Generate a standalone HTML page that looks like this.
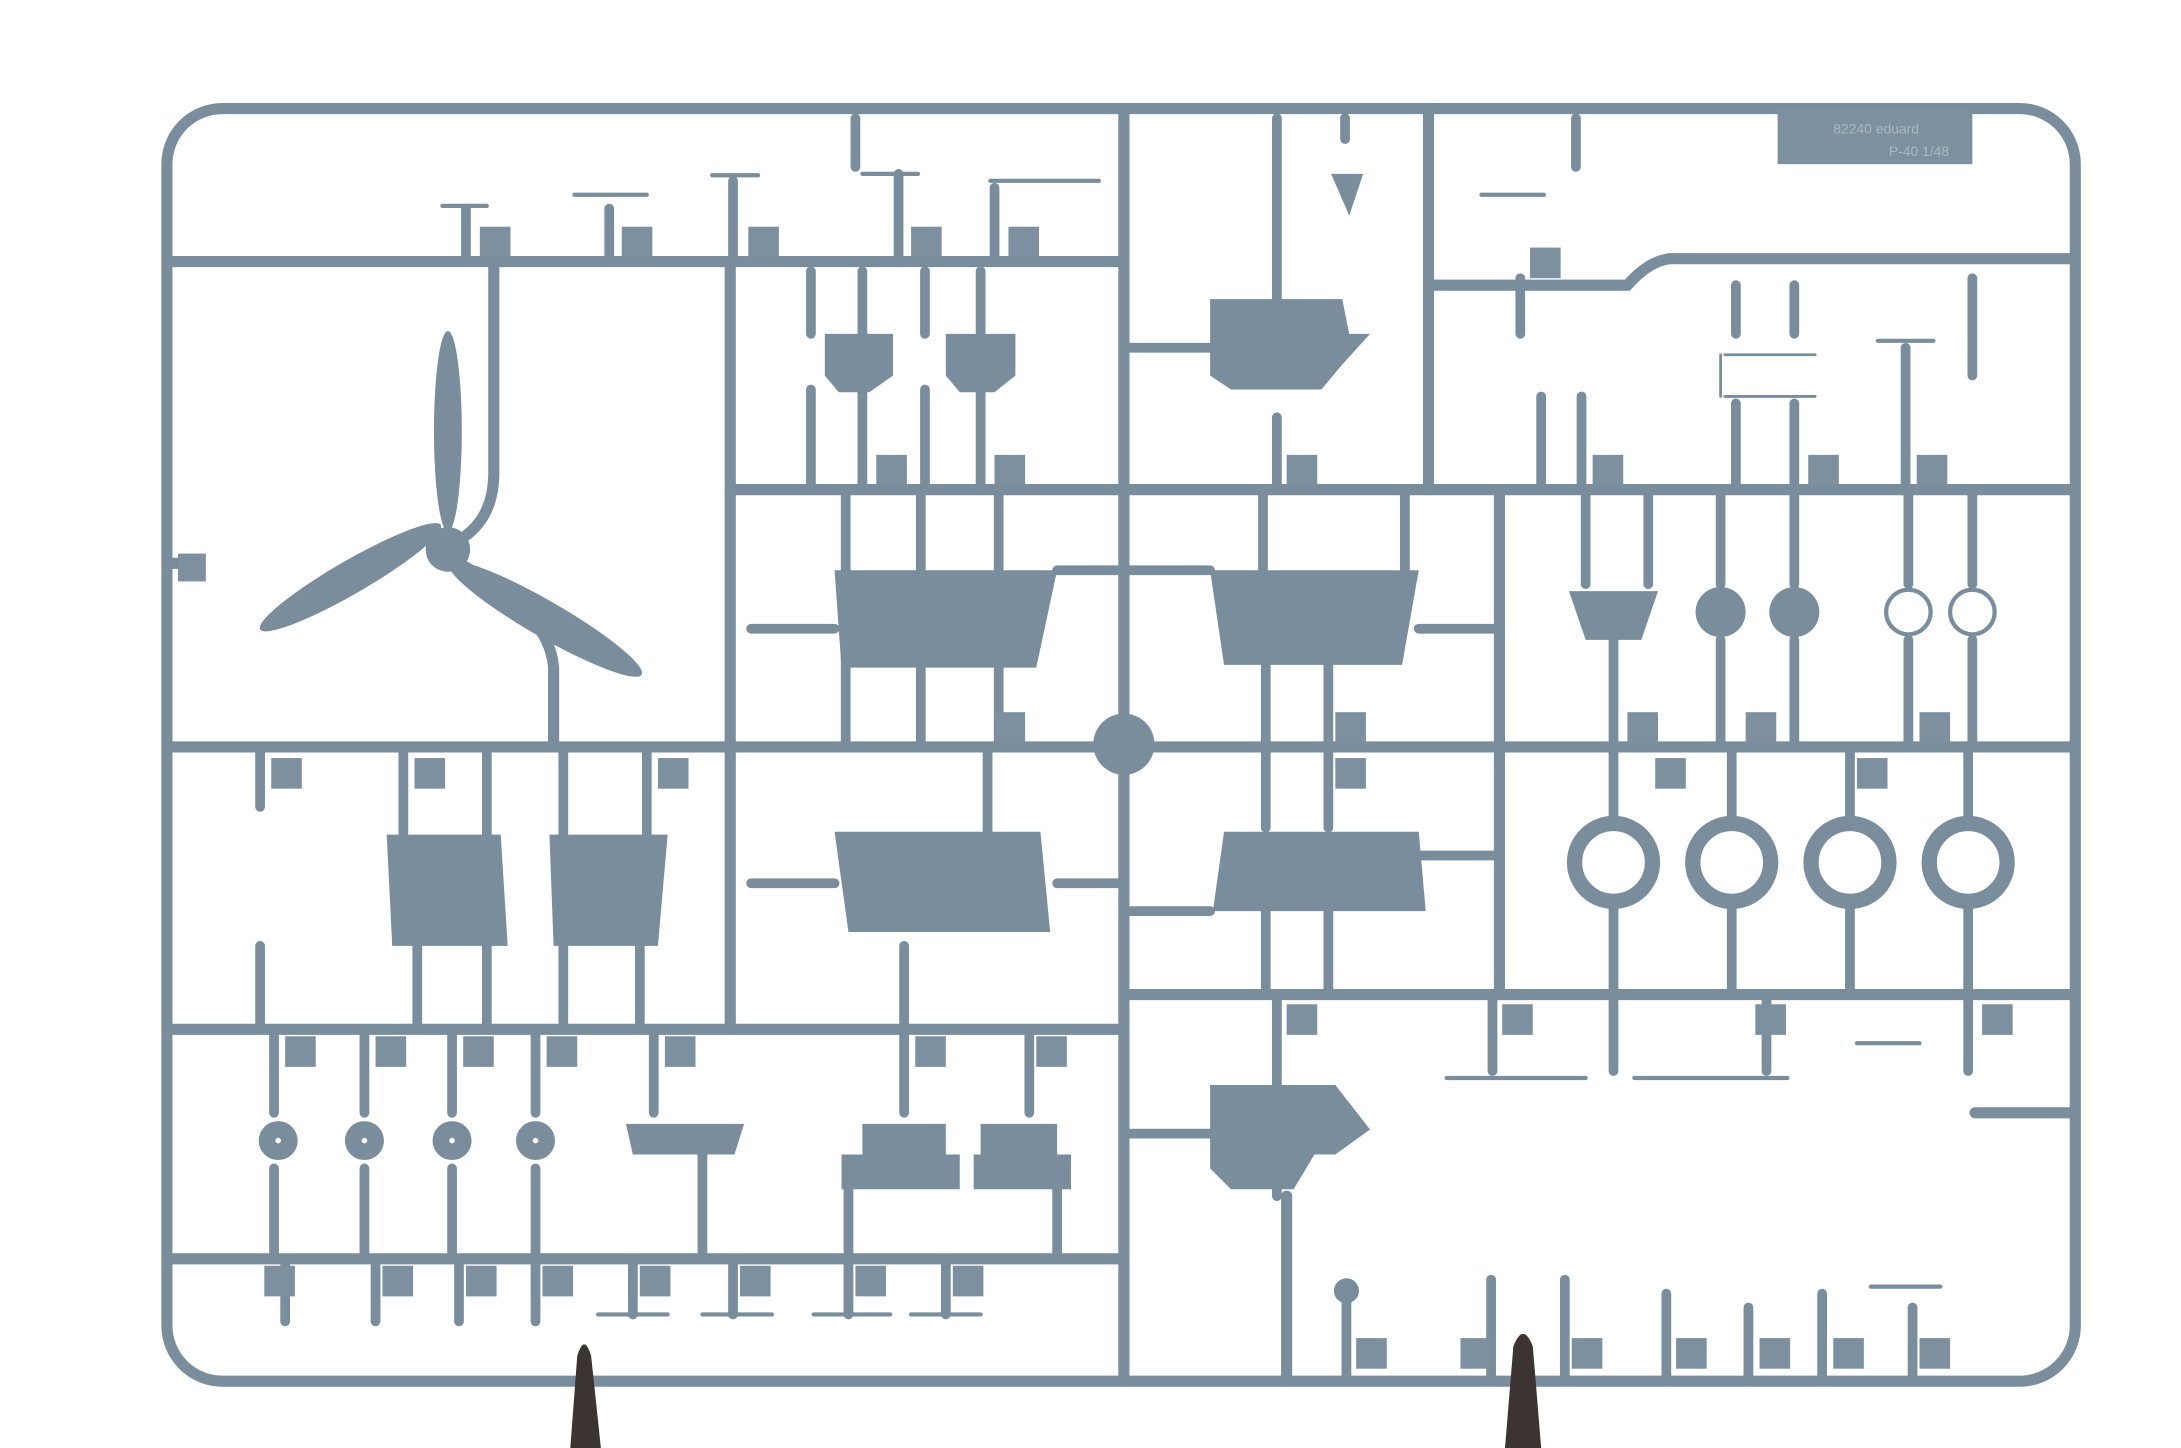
<!DOCTYPE html>
<html><head><meta charset="utf-8"><style>
html,body{margin:0;padding:0;background:#fff;}
svg{display:block;}
text{font-family:"Liberation Sans",sans-serif;font-size:10px;fill:#a9b8c3;}
</style></head><body>
<svg width="2181" height="1448" viewBox="0 0 1568 1041" xmlns="http://www.w3.org/2000/svg">
<rect width="1568" height="1041" fill="#fff"/>
<g stroke="#798d9c" fill="none" stroke-linecap="round">
<rect x="120" y="78" width="1372" height="915" rx="40" stroke-width="8"/>
<g stroke-width="8">
<path d="M120 188H805"/>
<path d="M525 188V740"/>
<path d="M808 78V993"/>
<path d="M525 352H1490"/>
<path d="M1027 78V352"/>
<path d="M1027 205H1170Q1185 188 1200 186H1490"/>
<path d="M120 537H1490"/>
<path d="M1078 352V715"/>
<path d="M812 715H1490"/>
<path d="M120 740H808"/>
<path d="M120 905H808"/>
<path d="M925 860V993"/>
<path d="M1420 800H1490"/>
<path d="M355 188V340Q355 370 335 385"/>
<path d="M330 405Q395 440 398 480V537"/>
<path d="M120 405H140"/>
</g>
<g stroke-width="7">
<path d="M335 150V188M438 150V188M527 130V188M646 125V188M715 135V188M615 85V120M1133 85V120M918 85V230M967 85V100"/>
<path d="M583 195V240M620 195V240M665 195V240M705 195V240M583 280V352M620 280V352M665 280V352M705 280V352"/>
<path d="M918 300V352M1093 200V240M1108 285V352M1137 285V352M1248 205V240M1290 205V240M1248 290V352M1290 290V352M1370 250V352M1418 200V270"/>
<path d="M608 352V410M662 352V410M718 352V410M1010 352V410M908 352V410M608 460V537M662 460V537M718 460V537M910 460V537M955 460V537"/>
<path d="M1140 352V420M1185 352V420M1237 352V420M1290 352V420M1372 352V420M1418 352V420M1160 460V537M1237 460V537M1290 460V537M1372 460V537M1418 460V537"/>
<path d="M710 537V600M910 537V595M955 537V595M650 680V740M910 650V715M955 650V715"/>
<path d="M1160 537V590M1245 537V590M1330 537V590M1415 537V590M1160 650V715M1245 650V715M1330 650V715M1415 650V715"/>
<path d="M187 537V580M290 537V600M350 537V600M405 537V600M465 537V600M187 680V740M300 680V740M350 680V740M405 680V740M460 680V740"/>
<path d="M197 740V800M262 740V800M325 740V800M385 740V800M470 740V800M650 740V800M740 740V800M197 840V905M262 840V905M325 840V905M385 840V905M505 830V905M610 840V905M760 840V905"/>
<path d="M205 905V950M270 905V950M330 905V950M385 905V950M455 905V945M527 905V945M610 905V945M680 905V945"/>
<path d="M918 715V780M918 850V860M1073 715V770M1160 715V770M1270 715V770M1415 715V770"/>
<path d="M968 935V993M1072 920V993M1125 920V993M1198 930V993M1257 940V993M1310 930V993M1375 940V993"/>
<path d="M540 452H600M760 410H808M808 410H870M1020 452H1078M540 635H600M760 635H808M808 655H870M1020 615H1078M812 250H870M812 815H870"/>
</g>
<path d="M318 148H350M413 140H465M512 126H545M620 125H660M712 130H790M1065 140H1110M1350 245H1390M1040 775H1140M1175 775H1285M1335 750H1380M430 945H480M505 945H555M585 945H640M655 945H705M1345 925H1395" stroke-width="3"/>
<path d="M1240 255H1305M1240 285H1305M1237 255V285" stroke-width="2"/>
</g>
<g fill="#798d9c">
<ellipse cx="322" cy="310" rx="10" ry="72"/>
<ellipse cx="252" cy="415" rx="75" ry="12" transform="rotate(-30 252 415)"/>
<ellipse cx="392" cy="445" rx="80" ry="13" transform="rotate(30 392 445)"/>
<circle cx="322" cy="395" r="16"/>
<path d="M593 240H642V270L625 282H603L593 270Z"/><path d="M680 240H730V270L715 282H690L680 270Z"/>
<path d="M870 215H965L970 240H985L965 262L950 280H885L870 270Z"/>
<path d="M600 410H760L745 480H605Z"/>
<path d="M870 410H1020L1008 478H880Z"/>
<path d="M600 598H748L755 670H610Z"/>
<path d="M880 598H1020L1025 655H872Z"/>
<path d="M278 600H360L365 680H282Z"/><path d="M395 600H480L473 680H398Z"/>
<path d="M1128 425H1192L1180 460H1140Z"/>
<circle cx="1237" cy="440" r="18"/><circle cx="1290" cy="440" r="18"/>
<path d="M450 808H535L528 830H455Z"/>
<path d="M620 808H680V830H690V855H605V830H620Z"/><path d="M705 808H760V830H770V855H700V830H705Z"/>
<path d="M870 780H960L985 812L960 830H945L930 855H885L870 840Z"/>
<path d="M957 125H980L970 155Z"/>
<circle cx="808" cy="535" r="22"/>
<circle cx="968" cy="928" r="9"/>
</g>
<g fill="none" stroke="#798d9c">
<g stroke-width="11"><circle cx="1160" cy="620" r="28"/><circle cx="1245" cy="620" r="28"/><circle cx="1330" cy="620" r="28"/><circle cx="1415" cy="620" r="28"/></g>
<g stroke-width="3"><circle cx="1372" cy="440" r="16"/><circle cx="1418" cy="440" r="16"/></g>
<g stroke-width="12"><circle cx="200" cy="820" r="8"/><circle cx="262" cy="820" r="8"/><circle cx="325" cy="820" r="8"/><circle cx="385" cy="820" r="8"/></g>
</g>
<g fill="#7d909f">
<rect x="345" y="163" width="22" height="22"/><rect x="447" y="163" width="22" height="22"/><rect x="538" y="163" width="22" height="22"/><rect x="655" y="163" width="22" height="22"/><rect x="725" y="163" width="22" height="22"/>
<rect x="1100" y="178" width="22" height="22"/><rect x="630" y="327" width="22" height="22"/><rect x="715" y="327" width="22" height="22"/><rect x="925" y="327" width="22" height="22"/>
<rect x="1145" y="327" width="22" height="22"/><rect x="1300" y="327" width="22" height="22"/><rect x="1378" y="327" width="22" height="22"/>
<rect x="715" y="512" width="22" height="22"/><rect x="960" y="512" width="22" height="22"/><rect x="1170" y="512" width="22" height="22"/><rect x="1255" y="512" width="22" height="22"/><rect x="1380" y="512" width="22" height="22"/>
<rect x="195" y="545" width="22" height="22"/><rect x="298" y="545" width="22" height="22"/><rect x="473" y="545" width="22" height="22"/><rect x="960" y="545" width="22" height="22"/><rect x="1190" y="545" width="22" height="22"/><rect x="1335" y="545" width="22" height="22"/>
<rect x="205" y="745" width="22" height="22"/><rect x="270" y="745" width="22" height="22"/><rect x="333" y="745" width="22" height="22"/><rect x="393" y="745" width="22" height="22"/><rect x="478" y="745" width="22" height="22"/><rect x="658" y="745" width="22" height="22"/><rect x="745" y="745" width="22" height="22"/>
<rect x="925" y="722" width="22" height="22"/><rect x="1080" y="722" width="22" height="22"/><rect x="1262" y="722" width="22" height="22"/><rect x="1425" y="722" width="22" height="22"/>
<rect x="190" y="910" width="22" height="22"/><rect x="275" y="910" width="22" height="22"/><rect x="335" y="910" width="22" height="22"/><rect x="390" y="910" width="22" height="22"/><rect x="460" y="910" width="22" height="22"/><rect x="532" y="910" width="22" height="22"/><rect x="615" y="910" width="22" height="22"/><rect x="685" y="910" width="22" height="22"/>
<rect x="975" y="962" width="22" height="22"/><rect x="1050" y="962" width="22" height="22"/><rect x="1130" y="962" width="22" height="22"/><rect x="1205" y="962" width="22" height="22"/><rect x="1265" y="962" width="22" height="22"/><rect x="1318" y="962" width="22" height="22"/><rect x="1380" y="962" width="22" height="22"/>
<rect x="128" y="398" width="20" height="20"/>
<rect x="1278" y="78" width="140" height="40"/>
</g>
<text x="1318" y="96">82240 eduard</text><text x="1358" y="112">P-40 1/48</text>
<g fill="#3b3430">
<path d="M410 1041L415 975Q420 958 425 975L432 1041Z"/>
<path d="M1082 1041L1088 968Q1095 950 1102 968L1108 1041Z"/>
</g>
</svg>
</body></html>
